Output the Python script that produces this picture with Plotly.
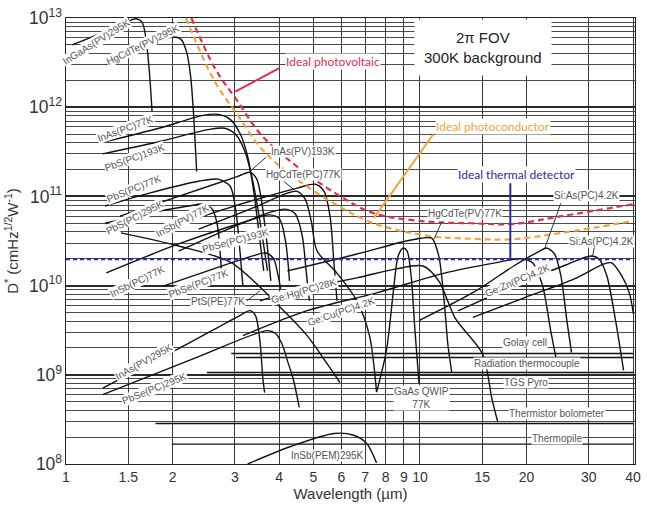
import plotly.graph_objects as go

FONT = "Liberation Sans"

# ---------------- data (wavelength in um, D* in cm Hz^1/2 W^-1) ----------------
ingaas_pv295_wl = [1.04, 1.24, 1.51, 1.58, 1.64, 1.68, 1.72, 1.75]
ingaas_pv295_d = [5.0e12, 6.6e12, 9.3e12, 9.8e12, 9.0e12, 6.1e12, 2.5e12, 9.0e11]

hgcdte_pv295_wl = [1.30, 1.61, 1.99, 2.11, 2.19, 2.25, 2.29, 2.34]
hgcdte_pv295_d = [3.0e12, 4.2e12, 6.1e12, 5.8e12, 4.2e12, 2.2e12, 9.0e11, 1.9e11]

inas_pc77_wl = [1.29, 1.83, 2.44, 2.69, 2.91, 3.10, 3.26, 3.39, 3.53, 3.62]
inas_pc77_d = [4.1e11, 5.8e11, 8.1e11, 8.3e11, 7.3e11, 5.1e11, 2.8e11, 1.15e11, 3.2e10, 1.46e10]

pbs_pc193_wl = [1.27, 1.83, 2.52, 2.81, 3.02, 3.20, 3.37, 3.53, 3.71]
pbs_pc193_d = [3.0e11, 4.1e11, 5.6e11, 5.8e11, 4.9e11, 3.2e11, 1.48e11, 5.3e10, 1.46e10]

pbs_pc77_wl = [1.29, 1.72, 2.37, 2.69, 2.91, 3.02, 3.10, 3.16]
pbs_pc77_d = [7.8e10, 1.09e11, 1.48e11, 1.56e11, 1.30e11, 6.8e10, 2.44e10, 9.95e9]

pbs_pc295_wl = [1.29, 1.72, 2.22, 2.44, 2.59, 2.68, 2.73, 2.76]
pbs_pc295_d = [5.0e10, 6.5e10, 7.8e10, 8.2e10, 7.2e10, 4.65e10, 2.15e10, 1.13e10]

inas_pv193_wl = [1.42, 2.08, 3.06, 3.31, 3.46, 3.57, 3.69, 3.79]
inas_pv193_d = [6.0e10, 1.0e11, 1.68e11, 1.86e11, 1.56e11, 8.8e10, 3.16e10, 1.13e10]

insb_pv77_wl = [1.83, 2.87, 4.50, 5.06, 5.36, 5.57, 5.71, 5.83]
insb_pv77_d = [4.1e10, 7.4e10, 1.24e11, 1.37e11, 1.14e11, 6.0e10, 1.89e10, 6.76e9]

hgcdte_pc77_wl = [2.37, 3.48, 4.22, 4.50, 4.74, 4.93, 5.12, 5.82, 6.63, 7.20, 7.54]
hgcdte_pc77_d = [4.3e10, 7.8e10, 1.09e11, 1.14e11, 9.3e10, 5.3e10, 2.44e10, 1.39e10, 6.76e9, 2.75e9, 6.4e8]

pbse_pc193_wl = [2.08, 2.87, 3.71, 4.17, 4.45, 4.65, 4.77, 4.87]
pbse_pc193_d = [2.44e10, 4.3e10, 6.5e10, 7.2e10, 6.3e10, 3.6e10, 1.46e10, 6.76e9]

insb_pc77_wl = [1.30, 2.08, 3.26, 3.76, 4.01, 4.17, 4.28]
insb_pc77_d = [1.39e10, 2.93e10, 5.3e10, 6.2e10, 5.6e10, 3.16e10, 1.13e10]

pbse_pc77_wl = [1.89, 2.61, 3.37, 3.67, 3.86, 3.96, 4.04]
pbse_pc77_d = [9.95e9, 1.54e10, 2.15e10, 2.32e10, 2.0e10, 1.39e10, 9.2e9]

ptsi_pe77_wl = [1.43, 2.08, 2.93, 4.04, 4.80, 5.46, 5.94]
ptsi_pe77_d = [3.9e10, 2.78e10, 1.81e10, 5.65e9, 2.75e9, 1.34e9, 8.2e8]

gehg_pc28_wl = [3.53, 4.50, 6.63, 8.57, 10.2, 11.3, 12.6, 15.0, 16.0, 16.6]
gehg_pc28_d = [6.76e9, 8.97e9, 1.22e10, 1.54e10, 1.66e10, 1.13e10, 4.26e9, 1.73e9, 5.2e8, 2.94e8]

hgcdte_pv77_wl = [4.22, 6.63, 9.14, 10.1, 10.8, 11.3, 11.7, 12.0, 12.3]
hgcdte_pv77_d = [1.46e10, 2.26e10, 3.16e10, 3.4e10, 3.4e10, 2.15e10, 6.76e9, 2.13e9, 1.06e9]

gaas_qwip77_wl = [7.54, 8.04, 8.41, 8.68, 8.97, 9.20, 9.44, 9.68, 9.94]
gaas_qwip77_d = [6.4e8, 1.87e9, 8.6e9, 2.15e10, 2.64e10, 2.44e10, 1.29e10, 3.13e9, 8.0e8]

gecu_pc42_wl = [3.16, 4.80, 7.54, 11.8, 16.3, 19.2, 20.8, 22.2, 23.4, 24.3]
gecu_pc42_d = [2.75e9, 5.24e9, 8.3e9, 1.39e10, 1.8e10, 2.0e10, 1.8e10, 9.95e9, 3.13e9, 1.45e9]

sias_pc42_a_wl = [9.94, 14.3, 18.5, 21.8, 22.8, 24.0, 25.0, 26.0, 26.8]
sias_pc42_a_d = [4.05e9, 8.6e9, 1.68e10, 2.44e10, 2.64e10, 2.26e10, 1.3e10, 4.05e9, 1.78e9]

sias_pc42_b_wl = [12.8, 18.5, 25.6, 30.4, 32.0, 33.7, 35.7, 37.6]
sias_pc42_b_d = [5.2e9, 9.95e9, 1.68e10, 2.15e10, 2.0e10, 1.3e10, 4.05e9, 1.12e9]

gezn_pc42_wl = [14.1, 19.7, 27.3, 33.0, 34.8, 37.1, 39.0, 40.1]
gezn_pc42_d = [4.4e9, 7.3e9, 1.19e10, 1.74e10, 1.8e10, 1.3e10, 8.4e9, 4.8e9]

inas_pv295_wl = [1.27, 2.08, 3.06, 3.31, 3.43, 3.53, 3.60, 3.64]
inas_pv295_d = [7.1e8, 1.96e9, 4.5e9, 5.24e9, 4.6e9, 2.42e9, 9.0e8, 6.3e8]

pbse_pc295_wl = [1.27, 2.37, 3.71, 3.91, 4.09, 4.22, 4.39, 4.56]
pbse_pc295_d = [6.0e8, 1.6e9, 3.13e9, 2.9e9, 2.14e9, 1.45e9, 8.8e8, 4.3e8]

insb_pem295_wl = [3.26, 4.31, 5.71, 6.50, 7.07, 7.54]
insb_pem295_d = [1.0e8, 1.57e8, 2.2e8, 2.1e8, 1.7e8, 1.03e8]

# thermal detectors (flat responses)
golay_wl = [2.93, 40.1]
golay_d = [1.73e9, 1.73e9]
thermocouple_wl = [3.02, 40.1]
thermocouple_d = [1.56e9, 1.56e9]
tgs_pyro_wl = [2.50, 40.1]
tgs_pyro_d = [1.06e9, 1.06e9]
thermistor_wl = [1.79, 40.1]
thermistor_d = [2.84e8, 2.84e8]
thermopile_wl = [1.99, 40.1]
thermopile_d = [1.67e8, 1.67e8]

# ideal limits (2pi FOV, 300 K background)
ideal_pv_wl = [2.26, 2.64, 3.06, 3.55, 4.31, 5.82, 7.39, 10.6, 14.0, 18.2, 25.1, 40.1]
ideal_pv_d = [1.0e13, 2.7e12, 1.15e12, 4.95e11, 2.47e11, 1.06e11, 6.5e10, 5.2e10, 5.0e10, 4.9e10, 6.0e10, 8.2e10]

ideal_pc_wl = [2.18, 2.64, 3.06, 3.55, 4.31, 5.82, 7.39, 10.6, 14.0, 18.2, 25.1, 40.1]
ideal_pc_d = [1.0e13, 1.9e12, 8.1e11, 3.5e11, 1.75e11, 8.0e10, 5.0e10, 3.6e10, 3.35e10, 3.3e10, 3.9e10, 5.3e10]

ideal_thermal_wl = [1.0, 40.1]
ideal_thermal_d = [1.98e10, 1.98e10]

x_tickvals = [1, 1.5, 2, 3, 4, 5, 6, 7, 8, 9, 10, 15, 20, 30, 40]
x_ticktext = ["1", "1.5", "2", "3", "4", "5", "6", "7", "8", "9", "10", "15", "20", "30", "40"]

# ---------------- figure ----------------
fig = go.Figure()

detector_curves = [
    (ingaas_pv295_wl, ingaas_pv295_d), (hgcdte_pv295_wl, hgcdte_pv295_d),
    (inas_pc77_wl, inas_pc77_d), (pbs_pc193_wl, pbs_pc193_d),
    (pbs_pc77_wl, pbs_pc77_d), (pbs_pc295_wl, pbs_pc295_d),
    (inas_pv193_wl, inas_pv193_d), (insb_pv77_wl, insb_pv77_d),
    (hgcdte_pc77_wl, hgcdte_pc77_d), (pbse_pc193_wl, pbse_pc193_d),
    (insb_pc77_wl, insb_pc77_d), (pbse_pc77_wl, pbse_pc77_d),
    (ptsi_pe77_wl, ptsi_pe77_d), (gehg_pc28_wl, gehg_pc28_d),
    (hgcdte_pv77_wl, hgcdte_pv77_d), (gaas_qwip77_wl, gaas_qwip77_d),
    (gecu_pc42_wl, gecu_pc42_d), (sias_pc42_a_wl, sias_pc42_a_d),
    (sias_pc42_b_wl, sias_pc42_b_d), (gezn_pc42_wl, gezn_pc42_d),
    (inas_pv295_wl, inas_pv295_d), (pbse_pc295_wl, pbse_pc295_d),
    (insb_pem295_wl, insb_pem295_d),
]
for wl, d in detector_curves:
    fig.add_trace(go.Scatter(x=wl, y=d, mode="lines",
                             line=dict(color="#111111", width=1.4, shape="spline", smoothing=0.8),
                             hoverinfo="skip"))

for wl, d in [(golay_wl, golay_d), (thermocouple_wl, thermocouple_d), (tgs_pyro_wl, tgs_pyro_d),
              (thermistor_wl, thermistor_d), (thermopile_wl, thermopile_d)]:
    fig.add_trace(go.Scatter(x=wl, y=d, mode="lines", line=dict(color="#111111", width=1.4),
                             hoverinfo="skip"))

fig.add_trace(go.Scatter(x=ideal_pc_wl, y=ideal_pc_d, mode="lines",
                         line=dict(color="#f2a43a", width=2.2, dash="6px,4px", shape="spline"),
                         hoverinfo="skip"))
fig.add_trace(go.Scatter(x=ideal_pv_wl, y=ideal_pv_d, mode="lines",
                         line=dict(color="#e2304a", width=2.2, dash="6px,4px", shape="spline"),
                         hoverinfo="skip"))
fig.add_trace(go.Scatter(x=ideal_thermal_wl, y=ideal_thermal_d, mode="lines",
                         line=dict(color="#2a2aa8", width=2.2, dash="4px,3px"),
                         hoverinfo="skip"))

# ---------------- labels & leader lines ----------------
annotations = []
shapes = []


def px2paper(px, py):
    return (px - 66) / 575.0, (464 - py) / 448.0


def lab(text, px, py, angle=0, color="#555555", size=10, family=FONT, bg="white", pad=0):
    x, y = px2paper(px, py)
    annotations.append(dict(text=text, x=x, y=y, xref="paper", yref="paper", showarrow=False,
                            textangle=angle, font=dict(size=size, color=color, family=family),
                            bgcolor=bg, borderpad=pad, xanchor="center", yanchor="middle"))


def leader(tip_px, tip_py, tail_px, tail_py, color="#333333", width=1):
    x0, y0 = px2paper(tip_px, tip_py)
    x1, y1 = px2paper(tail_px, tail_py)
    shapes.append(dict(type="line", xref="paper", yref="paper", x0=x0, y0=y0, x1=x1, y1=y1,
                       line=dict(color=color, width=width), layer="above"))


leader(237, 90, 282, 66, color="#e2304a", width=2)
leader(377, 217, 437, 133, color="#f2a43a", width=2)
leader(515, 260, 515, 182, color="#2a2aa8", width=2)
leader(252, 170, 268, 156)
leader(438, 238, 446, 220)
leader(550, 247, 566, 202)
leader(598, 256, 600, 246)
leader(262, 290, 249, 300)
leader(297, 189, 286, 180)

lab("InGaAs(PV)295K", 97, 40, -32)
lab("HgCdTe(PV)295K", 144, 43, -26)
lab("InAs(PC)77K", 126, 127, -20)
lab("PbS(PC)193K", 135, 156, -20)
lab("PbS(PC)77K", 135, 187, -22)
lab("PbS(PC)295K", 135, 216, -27)
lab("InSb(PV)77K", 184, 219, -28)
lab("PbSe(PC)193K", 237, 239, -15)
lab("InAs(PV)193K", 306, 150)
lab("HgCdTe(PC)77K", 306, 173)
lab("HgCdTe(PV)77K", 469, 212)
lab("Si:As(PC)4.2K", 592, 194)
lab("Si:As(PC)4.2K", 607, 241)
lab("InSb(PC)77K", 138, 281, -26)
lab("PbSe(PC)77K", 200, 283, -21)
lab("PtS(PE)77K", 220, 301)
lab("Ge:Hg(PC)28K", 307, 290, -16)
lab("Ge:Cu(PC)4.2K", 344, 311, -19)
lab("Ge:Zn(PC)4.2K", 522, 280, -23)
lab("InAs(PV)295K", 145, 361, -29)
lab("PbSe(PC)295K", 155, 388, -22)
lab("InSb(PEM)295K", 330, 455)
lab("GaAs QWIP<br>77K", 425, 398)
lab("Golay cell", 530, 342)
lab("Radiation thermocouple", 532, 363)
lab("TGS Pyro", 531, 382)
lab("Thermistor bolometer", 562, 413)
lab("Thermopile", 562, 438)

lab("Ideal photovoltaic", 336, 60, color="#e2304a", size=12, family="Lato")
lab("Ideal photoconductor", 497, 125, color="#f2a43a", size=12, family="Lato")
lab("Ideal thermal detector", 521, 173, color="#2a2aa8", size=12, family="Lato")
lab("2\u03c0 FOV<br>300K background", 487, 46, color="#222222", size=15, pad=9)

fig.update_layout(
    width=647, height=508,
    margin=dict(l=66, r=6, t=16, b=44),
    paper_bgcolor="white", plot_bgcolor="white",
    showlegend=False,
    font=dict(family=FONT, size=14, color="#333333"),
    annotations=annotations,
    shapes=shapes,
    xaxis=dict(type="log", range=[0, 1.6075], tickvals=x_tickvals, ticktext=x_ticktext,
               showgrid=True, gridcolor="#3a3a3a", gridwidth=1,
               showline=True, linecolor="#222222", linewidth=1, mirror=True,
               ticks="", tickfont=dict(size=14, color="#333333"),
               title=dict(text="Wavelength (\u00b5m)", font=dict(size=15, color="#333333"), standoff=4),
               zeroline=False),
    yaxis=dict(type="log", range=[8, 13], dtick=1, exponentformat="power",
               showgrid=True, gridcolor="#2a2a2a", gridwidth=1.5,
               minor=dict(dtick="D1", showgrid=True, gridcolor="#4a4a4a", gridwidth=1, ticks=""),
               showline=True, linecolor="#222222", linewidth=1, mirror=True,
               ticks="", tickfont=dict(size=14, color="#333333"),
               title=dict(text="D<sup>*</sup> (cmHz<sup>1/2</sup>W<sup>-1</sup>)",
                          font=dict(size=15, color="#333333"), standoff=6),
               zeroline=False),
)

fig.write_html("out.html")
